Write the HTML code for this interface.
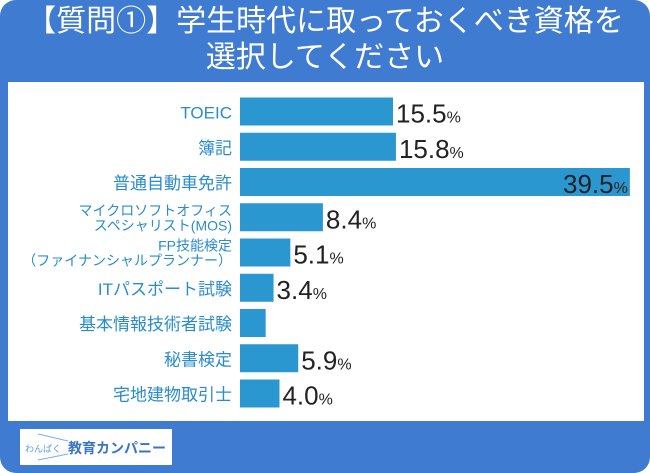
<!DOCTYPE html>
<html><head><meta charset="utf-8"><style>
body{margin:0;width:650px;height:473px;overflow:hidden;background:#fff;font-family:"Liberation Sans","Noto Sans CJK JP",sans-serif}
#bg{position:absolute;left:0;top:0;width:650px;height:473px;background:#3f7bd0;border-radius:16px}
#title{position:absolute;left:0;width:650px;top:4px;text-align:center;color:#fff;font-size:30px;line-height:36px}
#panel{position:absolute;left:8px;top:82px;width:636px;height:339px;background:#fff}
#logo{position:absolute;left:20px;top:429px;width:152px;height:36px;background:#fff}
</style></head><body>
<div id="bg"></div>
<div id="title">【質問①】学生時代に取っておくべき資格を<br>選択してください</div>
<div id="panel"></div>
<div id="logo">
<svg width="152" height="36"><line x1="18" y1="5" x2="48" y2="12" stroke="#7ab0e8"/><line x1="18" y1="31" x2="48" y2="25" stroke="#7ab0e8"/>
<text x="5" y="23" font-size="9" fill="#5a9be0" font-family="Noto Sans CJK JP,sans-serif">わんぱく</text>
<text x="48" y="24" font-size="14" font-weight="bold" fill="#3a74c8" font-family="Noto Sans CJK JP,sans-serif">教育カンパニー</text></svg>
</div>
<svg id="chart" width="650" height="473" style="position:absolute;left:0;top:0"></svg>
<script>
const categories=[["TOEIC"],["簿記"],["普通自動車免許"],["マイクロソフトオフィス","スペシャリスト(MOS)"],["FP技能検定","（ファイナンシャルプランナー）"],["ITパスポート試験"],["基本情報技術者試験"],["秘書検定"],["宅地建物取引士"]];
const values=[15.5,15.8,39.5,8.4,5.1,3.4,2.6,5.9,4.0];
const labels=["15.5","15.8","39.5","8.4","5.1","3.4","","5.9","4.0"];
const svg=document.getElementById('chart');const NS="http://www.w3.org/2000/svg";
const x0=240,scale=9.87,y0=111.5,step=35.25,bh=28;
const xs=v=>v*scale, yc=i=>y0+i*step;
function mk(t,a){const e=document.createElementNS(NS,t);for(const k in a)e.setAttribute(k,a[k]);svg.appendChild(e);return e;}
values.forEach((v,i)=>{
 const r=mk('rect',{x:x0,y:yc(i)-bh/2,width:xs(v),height:bh,fill:'#2a97d1'});
 
 
 const c=categories[i];
 c.forEach((s,j)=>{const small=c.length>1;
  const t=mk('text',{x:232,y:yc(i)+(small?(j===0?-2:13):7),'text-anchor':'end','font-size':small?14:17,fill:'#2a8ccb'});
  t.textContent=s;
  
  });
 if(labels[i]){const inside=v>30;
  const t=mk('text',{x:inside?x0+xs(v)-2:x0+xs(v)+3,y:yc(i)+11,'text-anchor':inside?'end':'start','font-size':26,fill:'#222'});
  t.innerHTML=labels[i]+'<tspan font-size="16">%</tspan>';
  
  }
});
</script>
</body></html>
